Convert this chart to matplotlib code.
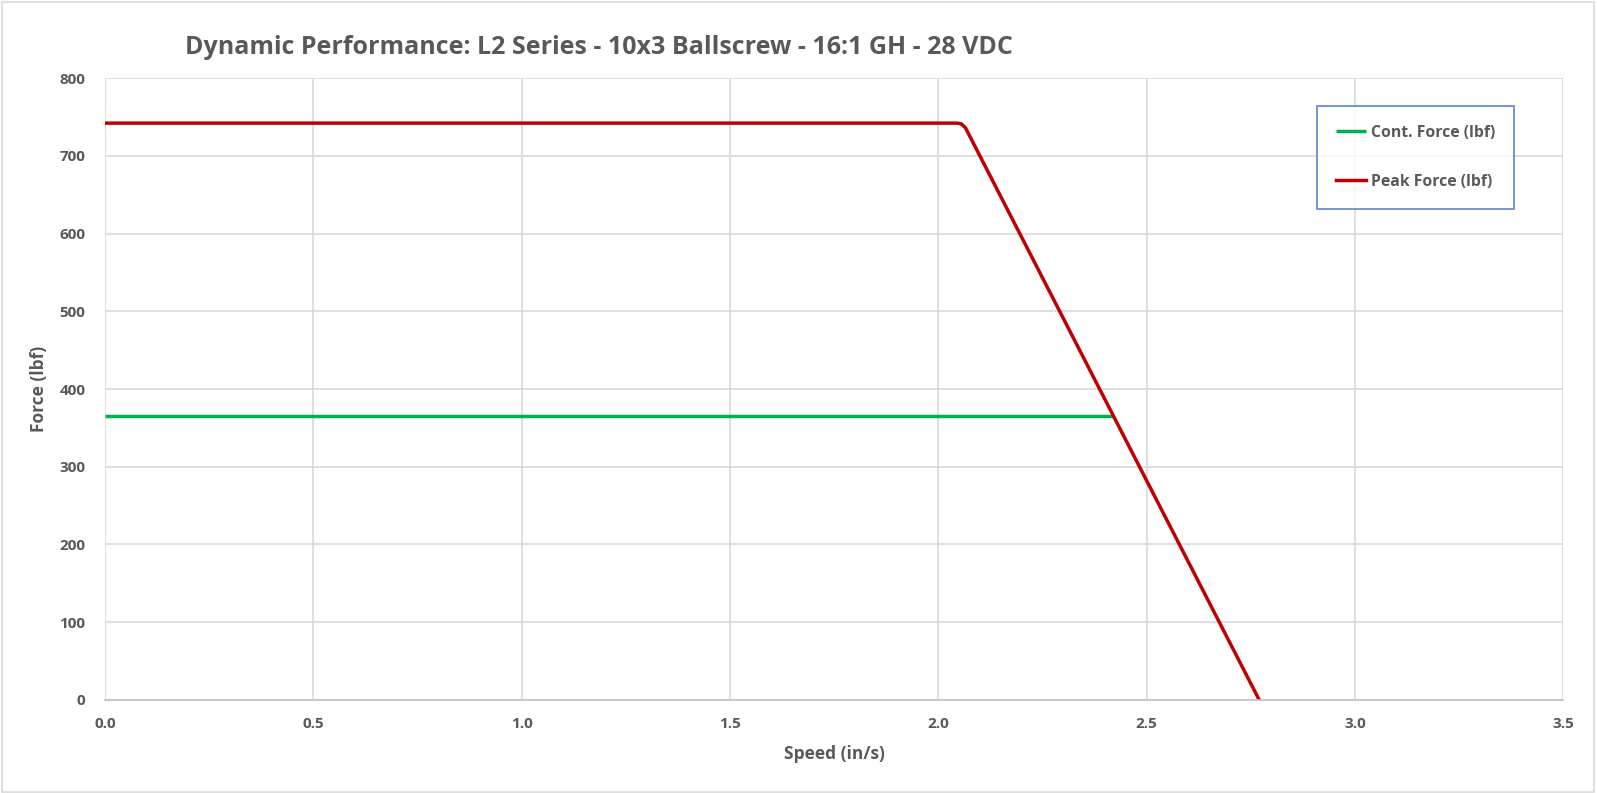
import numpy as np
import matplotlib
matplotlib.use('Agg')
import matplotlib.pyplot as plt
from matplotlib.patches import Rectangle

# curve data
speed_cont = [0.0, 2.42]
force_cont = [365, 365]
speed_peak = [0.0, 2.045, 2.055, 2.065, 2.77]
force_peak = [742, 742, 741, 736, 0]

title = 'Dynamic Performance: L2 Series - 10x3 Ballscrew - 16:1 GH - 28 VDC'
grey = '#595959'

plt.rcParams['font.family'] = ['Open Sans', 'DejaVu Sans']

fig = plt.figure(figsize=(15.97, 7.93), dpi=100)
ax = fig.add_axes([0.0657, 0.1173, 0.9133, 0.7843])

ax.plot(speed_cont, force_cont, color='#00B050', lw=2.5, label='Cont. Force (lbf)',
        solid_capstyle='butt')
ax.plot(speed_peak, force_peak, color='#C00000', lw=2.5, label='Peak Force (lbf)',
        solid_joinstyle='round')

ax.set_xlim(0, 3.5)
ax.set_ylim(0, 800)
ax.set_xticks(np.arange(0, 3.51, 0.5))
ax.set_yticks(np.arange(0, 801, 100))
ax.set_xticklabels(['%.1f' % v for v in np.arange(0, 3.51, 0.5)])
ax.grid(True, color='#D9D9D9', lw=1.2)
ax.set_axisbelow(True)
for s in ['top', 'right', 'left']:
    ax.spines[s].set_visible(False)
ax.spines['bottom'].set_color('#BFBFBF')
ax.spines['bottom'].set_linewidth(1.2)
ax.tick_params(length=0, colors=grey, labelsize=11, pad=12)
for lab in ax.get_xticklabels() + ax.get_yticklabels():
    lab.set_fontweight('bold')
ax.tick_params(axis='y', pad=14)

ax.set_xlabel('Speed (in/s)', color=grey, fontsize=12.5, fontweight='bold', labelpad=10)
ax.set_ylabel('Force (lbf)', color=grey, fontsize=12.5, fontweight='bold', labelpad=8)
fig.text(0.375, 0.94, title, ha='center', va='center', color=grey,
         fontsize=18, fontweight='bold')

leg = ax.legend(loc='upper right', bbox_to_anchor=(0.966, 0.955), borderaxespad=0,
                frameon=True, fancybox=False, edgecolor='#4472C4', labelspacing=2.1,
                borderpad=1.2, handlelength=1.9, handletextpad=0.3,
                prop={'size': 11.3, 'weight': 'bold'})
leg.get_frame().set_linewidth(1.3)
for t in leg.get_texts():
    t.set_color(grey)

fig.patches.append(Rectangle((0.001, 0.001), 0.997, 0.997, transform=fig.transFigure,
                             fill=False, edgecolor='#D9D9D9', lw=1.2))

fig.savefig('out.png', dpi=100)
